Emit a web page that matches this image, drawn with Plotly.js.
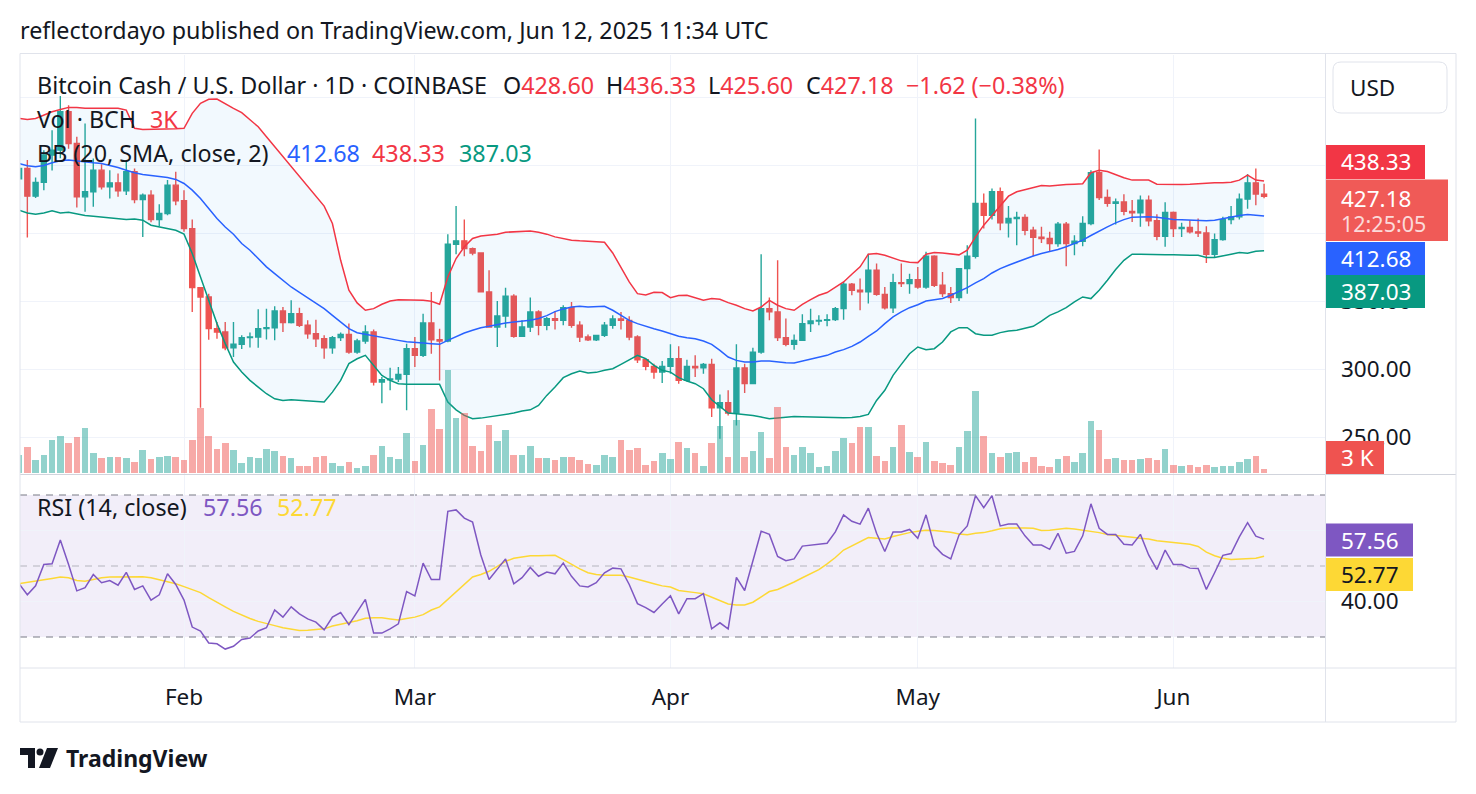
<!DOCTYPE html>
<html>
<head>
<meta charset="utf-8">
<script src="https://cdn.plot.ly/plotly-3.0.1.min.js"></script>
<style>html,body{margin:0;padding:0;background:#fff;}#chart{width:1476px;height:794px;}</style>
</head>
<body>
<div id="chart"></div>
<script>
// ---------- DATA (BCH/USD daily, 2025-01-12 .. 2025-06-12) ----------
const firstDay = '2025-01-12';
const open = [
440.0,447.5,427.2,437.3,457.4,461.0,489.2,465.9,426.7,430.4,446.3,434.1,437.0,431.1,445.1,424.8,428.0,410.0,414.5,435.3,
423.8,403.4,360.0,353.2,329.9,327.5,315.9,318.4,323.3,323.8,329.9,330.6,342.9,334.3,340.9,332.4,326.2,322.5,315.9,323.3,325.7,312.7,320.8,327.5,290.7,292.4,292.9,296.3,
315.2,310.3,334.1,321.8,320.8,391.9,394.4,388.7,385.5,356.9,331.1,339.2,353.7,324.3,331.1,342.2,332.4,337.3,336.0,345.3,332.4,323.8,321.8,325.0,332.4,337.0,336.0,323.8,307.1,302.2,298.0,
302.2,307.8,291.9,302.2,301.2,303.7,271.8,275.5,267.9,301.0,289.5,312.7,344.6,342.2,323.3,318.4,321.3,333.6,335.5,336.0,336.5,344.6,362.5,358.1,356.9,372.8,355.1,345.3,363.7,363.0,
365.9,360.5,383.1,361.8,355.6,352.7,374.0,383.1,421.8,413.2,430.4,407.6,410.8,411.5,402.2,397.0,396.1,392.4,406.6,392.4,394.1,407.1,444.4,426.2,422.0,423.0,416.0,415.0,424.3,409.1,397.8,
415.2,403.4,404.2,401.0,400.2,384.6,395.3,410.0,412.0,425.0,437.0,428.6];
const high = [
449.0,453.7,440.9,461.0,475.7,500.7,494.0,470.8,480.6,454.9,450.7,446.3,443.9,452.5,447.5,429.2,431.6,421.3,439.0,445.1,
431.6,410.0,360.5,355.6,334.8,334.8,334.8,325.0,327.0,344.1,344.6,346.3,345.8,350.7,345.3,336.0,336.5,325.0,324.5,327.0,333.6,322.5,332.4,329.2,294.4,301.2,301.7,318.9,
323.8,340.9,356.9,329.9,399.3,419.9,410.0,389.5,386.0,372.8,350.2,360.0,355.1,336.0,352.7,343.4,338.5,342.9,347.0,349.5,335.3,325.7,325.5,334.8,339.7,342.2,339.0,325.0,307.8,304.2,306.1,
318.4,316.9,307.1,310.3,304.7,307.8,281.6,284.6,318.4,304.2,315.9,384.6,352.7,380.1,337.3,325.7,340.4,344.6,339.7,340.4,345.8,364.2,363.5,366.7,385.0,377.7,360.5,370.3,377.7,370.3,
375.2,386.3,383.8,371.6,360.5,374.5,391.2,484.3,429.2,432.8,433.6,419.9,415.7,414.0,404.7,404.7,401.0,408.3,408.3,398.5,412.5,446.3,461.5,432.1,425.5,428.7,424.3,427.7,427.7,414.0,422.8,
416.0,407.6,409.6,410.8,405.1,399.8,412.0,419.9,429.2,443.4,447.5,436.33];
const low = [
437.5,396.8,425.9,431.6,446.0,455.0,462.0,418.9,415.7,419.4,432.1,425.5,426.7,428.0,422.0,397.3,408.0,405.1,413.2,420.6,
401.0,342.2,271.8,321.8,322.5,314.0,309.1,315.0,316.0,315.9,322.0,321.3,327.5,333.6,331.1,322.5,316.4,307.8,311.5,320.8,311.5,311.5,318.9,288.2,275.2,284.6,290.7,269.9,
301.7,309.1,311.5,291.9,319.9,384.6,383.1,383.8,356.4,330.6,316.4,330.6,323.3,323.8,327.5,325.0,328.7,329.2,332.4,330.6,320.1,320.8,320.8,323.8,329.9,329.2,321.3,304.7,299.3,293.1,290.0,
296.8,289.5,291.0,294.4,296.8,265.0,249.0,266.2,258.8,282.6,289.0,311.5,336.0,320.8,316.9,314.5,320.8,327.5,332.4,331.6,335.5,336.5,354.4,343.4,348.3,354.0,344.0,341.4,360.5,355.6,
359.3,359.3,360.5,353.2,348.8,350.2,355.6,381.4,403.4,410.0,402.2,396.8,391.2,398.5,383.1,392.9,386.3,390.0,375.7,383.8,390.4,405.9,424.3,419.4,406.4,413.2,408.3,404.7,405.1,394.9,390.0,
397.3,397.3,399.8,397.3,378.2,382.6,394.4,406.6,410.0,417.9,420.6,425.6];
const close = [
447.5,427.2,437.3,457.4,461.0,489.2,465.9,426.7,430.4,446.3,434.1,437.0,431.1,445.1,424.8,428.0,410.0,414.5,435.3,423.8,
403.4,360.0,353.2,329.9,327.5,315.9,318.4,323.3,323.8,329.9,330.6,342.9,334.3,340.9,332.4,326.2,322.5,315.9,323.3,325.7,312.7,320.8,327.5,290.7,292.4,292.9,296.3,315.2,
310.3,334.1,321.8,320.8,391.9,394.4,388.7,385.5,356.9,331.1,339.2,353.7,324.3,331.1,342.2,332.4,337.3,336.0,345.3,332.4,323.8,321.8,325.0,332.4,337.0,336.0,323.8,307.1,302.2,298.0,302.2,
307.8,291.9,302.2,301.2,303.7,271.8,275.5,267.9,301.0,289.5,312.7,344.6,342.2,323.3,318.4,321.3,333.6,335.5,336.0,336.5,344.6,362.5,358.1,356.9,372.8,355.1,345.3,363.7,363.0,365.9,
360.5,383.1,361.8,355.6,352.7,374.0,383.1,421.8,413.2,430.4,407.6,410.8,411.5,402.2,397.0,396.1,392.4,406.6,392.4,394.1,407.1,444.4,426.2,422.0,423.0,416.0,415.0,424.3,409.1,397.8,415.2,
403.4,404.2,401.0,400.2,384.6,395.3,410.0,412.0,425.0,437.0,428.8,427.18];
// volume in thousands of BCH
const volumeK = [
15.1,21.6,10.3,15.1,26.5,30.5,24.3,29.2,36.2,16.2,11.9,13.0,13.0,11.9,8.9,18.4,11.3,13.0,14.3,13.0,
10.3,26.5,52.9,29.7,19.2,24.3,18.4,8.1,13.5,12.4,19.2,17.8,14.3,12.4,6.2,6.2,13.5,14.3,8.1,6.2,8.9,4.1,6.2,15.1,22.4,13.5,11.1,32.4,
9.7,23.2,52.1,35.4,83.7,44.8,48.8,22.4,17.6,38.6,25.7,34.6,15.1,15.1,22.4,11.9,12.4,10.3,13.5,13.5,10.3,7.5,6.7,15.1,13.5,26.5,18.4,20.3,7.0,9.7,16.2,
11.1,25.1,20.3,16.2,6.2,24.3,37.8,13.5,42.7,13.5,17.6,33.2,11.9,53.5,21.6,15.1,21.6,16.2,4.9,6.2,17.8,28.4,24.3,37.3,37.3,14.3,9.7,21.1,39.4,17.0,
13.0,25.1,9.7,8.1,7.0,21.1,34.0,66.2,29.7,16.2,13.5,16.2,17.0,8.9,13.5,6.2,4.9,11.1,14.3,8.9,16.2,41.9,34.6,11.1,11.9,10.3,10.3,11.1,11.9,10.3,19.7,
7.0,6.2,7.0,5.4,7.0,5.4,6.2,6.2,8.9,11.1,14.3,3.0];
const bbUpper = [
484.3,483.6,484.3,486.8,489.2,490.9,492.4,492.4,491.7,491.7,491.7,491.7,491.7,490.4,477.0,476.2,476.2,476.2,476.2,476.7,
477.0,488.0,495.4,498.3,498.5,495.4,491.7,488.5,483.6,478.2,470.8,463.5,456.6,449.3,441.9,434.1,427.2,419.9,407.1,380.1,358.1,348.8,343.4,344.6,347.8,350.2,351.2,351.2,
351.2,350.7,350.0,347.8,367.9,381.4,390.0,396.1,398.0,398.5,399.3,400.7,401.2,401.5,401.7,400.7,399.3,397.3,396.1,394.9,394.4,394.1,393.9,393.4,385.5,375.3,364.2,355.6,354.7,356.6,356.4,
352.7,354.2,354.4,352.7,350.7,352.0,351.5,349.0,347.1,344.6,342.9,345.8,350.7,347.1,344.6,343.4,347.8,351.2,354.4,356.4,360.5,364.2,369.9,375.3,384.6,385.1,383.8,381.9,379.7,378.7,
378.4,384.6,385.8,385.5,384.6,384.1,387.5,397.3,405.9,413.2,420.6,427.2,430.4,432.1,433.3,435.1,434.6,435.3,435.8,436.0,436.3,444.4,446.3,445.3,442.7,440.7,439.0,439.0,439.0,436.0,435.8,
435.8,435.8,436.0,436.5,437.0,437.0,437.0,437.5,439.0,442.7,439.0,438.33];
const bbBasis = [
451.2,449.5,448.8,449.7,451.7,453.2,453.7,452.9,452.4,451.7,451.2,450.0,448.3,446.3,444.4,443.1,442.4,441.4,440.9,439.5,
436.5,431.6,425.5,418.1,410.8,404.6,399.3,392.4,387.5,381.4,375.3,370.3,365.4,360.5,356.6,352.7,348.3,344.6,339.7,334.8,329.9,326.9,325.7,324.8,323.5,322.5,321.3,320.3,
319.6,319.4,318.9,318.4,321.3,324.3,326.7,328.7,330.6,331.6,333.1,334.1,334.8,335.5,336.0,337.3,339.5,342.4,344.4,345.8,346.3,345.8,345.8,346.3,343.4,339.5,336.0,333.6,331.6,329.9,328.2,
326.2,324.3,323.3,322.5,320.8,318.4,314.0,309.1,306.6,305.4,305.4,306.1,306.1,305.4,304.9,304.7,306.1,307.6,309.1,310.3,312.7,314.5,316.9,320.1,324.3,328.2,333.6,338.5,342.2,345.3,
347.5,350.2,351.2,352.0,354.4,356.9,360.0,363.5,366.7,370.8,374.0,376.5,378.9,381.4,383.3,385.1,386.5,388.0,390.0,392.4,394.9,398.3,401.7,404.6,407.6,410.0,411.8,412.0,412.0,411.8,410.8,
410.0,409.8,409.6,409.3,409.1,409.6,410.8,411.8,413.0,413.7,413.2,412.68];
const bbLower = [
416.9,414.9,414.0,414.9,416.4,414.9,415.4,414.0,413.0,412.5,412.0,411.5,410.8,410.1,410.5,409.6,405.9,404.7,403.4,402.2,
399.3,385.1,367.9,350.7,333.6,318.9,305.4,298.0,291.9,287.0,282.1,278.4,277.2,277.7,277.2,276.7,276.2,276.0,283.3,291.9,304.2,307.8,310.3,302.9,295.6,291.9,289.5,289.0,
289.0,288.7,288.5,289.0,276.0,270.3,266.2,263.7,264.2,265.0,265.9,266.7,267.9,269.4,270.3,273.5,280.9,287.0,293.9,296.8,298.8,297.3,297.8,299.3,300.5,303.7,307.1,310.3,307.8,302.9,299.3,
298.0,293.9,291.4,289.5,285.8,277.7,272.8,267.9,267.4,266.9,266.2,265.0,263.7,264.2,265.0,265.4,265.2,265.0,265.0,265.0,264.7,264.5,264.7,265.4,266.9,277.2,284.6,295.6,303.7,311.5,
316.4,314.5,315.2,320.1,327.5,330.6,330.6,326.2,325.0,325.0,327.0,328.2,328.7,329.9,331.6,335.5,339.7,342.2,345.3,349.5,353.2,352.0,358.1,365.4,373.3,380.1,384.6,384.6,384.3,384.3,384.1,
384.1,383.8,383.8,383.8,382.1,382.1,383.1,384.6,385.8,385.3,386.8,387.03];
const rsi = [
45.0,41.9,44.4,50.4,50.6,57.3,50.4,43.0,43.9,47.6,45.3,45.9,44.6,48.2,43.4,44.4,40.4,41.9,47.8,44.8,
40.4,32.8,31.7,28.3,28.1,26.6,27.4,29.3,29.7,31.7,32.6,37.6,35.6,38.5,36.5,35.1,34.2,32.0,35.6,36.9,33.5,36.9,40.6,31.1,31.1,32.3,33.7,42.8,
41.6,50.8,46.2,46.2,65.4,65.8,63.5,62.4,53.1,46.2,49.0,52.0,45.0,46.7,49.6,47.1,48.3,47.8,50.8,47.1,44.4,44.1,45.3,48.1,49.4,49.2,44.8,39.4,38.3,36.9,39.3,
41.6,36.5,40.8,40.8,42.2,32.3,34.0,32.3,46.8,43.1,51.5,59.8,58.9,52.7,51.5,52.0,55.6,55.9,56.1,56.4,59.6,64.4,62.6,61.8,66.3,59.2,54.1,59.6,59.6,60.3,
57.8,64.4,55.7,53.3,52.0,58.7,61.3,69.8,66.4,69.8,61.3,61.8,61.8,58.5,55.9,55.9,54.7,59.2,53.6,54.1,58.5,67.5,60.6,58.9,58.9,56.1,55.9,58.9,53.1,49.0,54.5,
50.4,50.4,49.4,49.3,43.4,48.1,53.0,53.5,58.2,62.2,58.4,57.56];
const rsiMA = [
45.0,45.3,45.7,46.1,46.5,46.9,46.7,45.9,45.7,46.2,46.7,46.9,46.9,46.9,47.0,47.0,46.7,46.2,45.7,45.0,
44.2,43.3,42.5,41.1,39.7,38.5,37.2,36.1,35.2,34.4,33.9,33.2,32.6,32.1,31.8,31.9,32.0,32.3,33.1,33.7,34.1,34.6,35.3,35.4,35.4,35.1,34.8,35.2,
35.6,36.3,37.6,38.5,40.6,42.8,45.0,46.9,47.6,48.5,49.9,51.3,52.2,52.6,52.9,52.9,53.0,53.0,51.8,50.4,49.2,48.1,47.6,47.4,47.4,47.4,46.9,46.2,45.6,45.0,44.4,
44.1,43.1,42.7,42.5,42.2,41.3,40.2,39.3,39.0,39.0,39.8,41.3,42.8,43.4,44.4,45.5,46.7,47.9,49.0,50.6,52.4,54.5,55.6,56.7,58.0,57.8,57.6,58.3,58.9,59.4,
59.8,60.1,60.0,59.8,59.5,59.0,58.8,59.2,59.4,59.9,60.5,60.7,60.8,60.7,60.6,60.0,60.1,60.4,60.6,60.4,60.1,59.8,59.4,58.9,58.7,58.5,58.1,57.8,57.6,57.1,56.9,
56.5,56.3,56.1,55.5,53.9,52.9,52.2,51.8,51.9,52.2,52.2,52.77];
const monthTicks = ['2025-02-01','2025-03-01','2025-04-01','2025-05-01','2025-06-01'];
const monthLabels = ['Feb','Mar','Apr','May','Jun'];
const priceTicks = [250,300,350,400,450,500];
const priceTickText = ['250.00','300.00','350.00','','',''];

// ---------- dates ----------
const dates = [];
{
  const [yy, mm, dd] = firstDay.split('-').map(Number);
  for (let i = 0; i < close.length; i++) {
    dates.push(new Date(Date.UTC(yy, mm - 1, dd + i)).toISOString().slice(0, 10));
  }
}

// ---------- colours / helpers ----------
const UP = '#26a69a', DOWN = '#ef5350';
const RED = '#f23645', BLUE = '#2962ff', GREEN = '#089981', PURPLE = '#7e57c2', YELLOW = '#fdd835', INK = '#131722';
const FONT = 'Noto Sans, DejaVu Sans, sans-serif';
const LEG = 23.3;
const W = 1476, H = 794, ML = 20, MR = 151, MT = 55, MB = 126;
const PW = W - ML - MR, PH = H - MT - MB;
const px = x => (x - ML) / PW;
const py = y => (H - MB - y) / PH;

const volColors = close.map((c, i) => c >= open[i] ? 'rgba(38,166,154,0.5)' : 'rgba(239,83,80,0.5)');

const traces = [
  {type:'scatter', mode:'lines', x:dates, y:bbUpper, xaxis:'x', yaxis:'y', line:{color:RED, width:1.5}, hoverinfo:'skip'},
  {type:'scatter', mode:'lines', x:dates, y:bbLower, xaxis:'x', yaxis:'y', line:{color:GREEN, width:1.5}, fill:'tonexty', fillcolor:'rgba(33,150,243,0.06)', hoverinfo:'skip'},
  {type:'scatter', mode:'lines', x:dates, y:bbBasis, xaxis:'x', yaxis:'y', line:{color:BLUE, width:1.5}, hoverinfo:'skip'},
  {type:'candlestick', x:dates, open:open, high:high, low:low, close:close, xaxis:'x', yaxis:'y',
   increasing:{line:{color:UP, width:1.4}, fillcolor:UP}, decreasing:{line:{color:DOWN, width:1.4}, fillcolor:DOWN},
   whiskerwidth:0, hoverinfo:'skip'},
  {type:'bar', x:dates, y:volumeK, xaxis:'x', yaxis:'y3', marker:{color:volColors, line:{width:0}}, width:dates.map(()=>0.8*86400000), hoverinfo:'skip'},
  {type:'scatter', mode:'lines', x:dates, y:rsiMA, xaxis:'x', yaxis:'y2', line:{color:YELLOW, width:1.5}, hoverinfo:'skip'},
  {type:'scatter', mode:'lines', x:dates, y:rsi, xaxis:'x', yaxis:'y2', line:{color:PURPLE, width:1.5}, hoverinfo:'skip'}
];

function hline(y, x0, x1, color, width, dash) {
  return {type:'line', xref:'paper', yref:'paper', x0:px(x0), x1:px(x1), y0:py(y), y1:py(y), line:{color:color, width:width||1, dash:dash||'solid'}, layer:'above'};
}
function vline(x, y0, y1, color) {
  return {type:'line', xref:'paper', yref:'paper', x0:px(x), x1:px(x), y0:py(y0), y1:py(y1), line:{color:color, width:1}, layer:'above'};
}
function box(x0, y0, x1, y1, color) {
  return {type:'rect', xref:'paper', yref:'paper', x0:px(x0), x1:px(x1), y0:py(y1), y1:py(y0), fillcolor:color, line:{width:0}, layer:'above'};
}
function P(x, y) { return px(x) + ',' + py(y); }
function roundRect(x0, y0, x1, y1, r) {
  return 'M' + P(x0 + r, y0) + ' L' + P(x1 - r, y0) + ' Q' + P(x1, y0) + ' ' + P(x1, y0 + r) +
    ' L' + P(x1, y1 - r) + ' Q' + P(x1, y1) + ' ' + P(x1 - r, y1) + ' L' + P(x0 + r, y1) +
    ' Q' + P(x0, y1) + ' ' + P(x0, y1 - r) + ' L' + P(x0, y0 + r) + ' Q' + P(x0, y0) + ' ' + P(x0 + r, y0) + ' Z';
}
function polyPath(pts) { return 'M' + pts.map(p => P(p[0], p[1])).join(' L') + ' Z'; }

const BORDER = '#e0e3eb';
const shapes = [
  // RSI band background and level lines
  {type:'rect', xref:'paper', yref:'y2', x0:0, x1:1, y0:30, y1:70, fillcolor:'rgba(126,87,194,0.1)', line:{width:0}, layer:'below'},
  {type:'line', xref:'paper', yref:'y2', x0:0, x1:1, y0:70, y1:70, line:{color:'#787b86', width:1.2, dash:'7px,6px'}, layer:'below'},
  {type:'line', xref:'paper', yref:'y2', x0:0, x1:1, y0:50, y1:50, line:{color:'rgba(120,123,134,0.5)', width:1.2, dash:'7px,6px'}, layer:'below'},
  {type:'line', xref:'paper', yref:'y2', x0:0, x1:1, y0:30, y1:30, line:{color:'#787b86', width:1.2, dash:'7px,6px'}, layer:'below'},
  // frame
  hline(53.5, 20, 1456, BORDER), hline(722, 20, 1456, BORDER), hline(474.5, 20, 1456, '#d1d4dc'), hline(668, 20, 1456, BORDER),
  vline(20, 53.5, 722, BORDER), vline(1456, 53.5, 722, BORDER), vline(1325.5, 53.5, 722, BORDER),
  // USD box
  {type:'path', xref:'paper', yref:'paper', path:roundRect(1333, 62, 1447, 113, 8), fillcolor:'#ffffff', line:{color:BORDER, width:1}, layer:'above'},
  // price-scale labels
  box(1326, 145, 1425, 179, RED),
  box(1326, 179.5, 1448, 241, '#f05a57'),
  box(1326, 242, 1425, 275, BLUE),
  box(1326, 275, 1425, 308, GREEN),
  box(1326, 441, 1384, 474, DOWN),
  box(1326, 523.5, 1413, 556.5, PURPLE),
  box(1326, 558, 1413, 591, YELLOW),
  // TradingView logo
  {type:'path', xref:'paper', yref:'paper', path:polyPath([[20,748],[35,748],[35,768],[28,768],[28,755],[20,755]]), fillcolor:INK, line:{width:0}, layer:'above'},
  {type:'circle', xref:'paper', yref:'paper', x0:px(36.5), x1:px(43.5), y0:py(755.5), y1:py(748.5), fillcolor:INK, line:{width:0}, layer:'above'},
  {type:'path', xref:'paper', yref:'paper', path:polyPath([[47,748],[58,748],[50,768],[39,768]]), fillcolor:INK, line:{width:0}, layer:'above'}
];

function txt(x, y, text, color, size, extra) {
  return Object.assign({xref:'paper', yref:'paper', x:px(x), y:py(y), xanchor:'left', yanchor:'middle', text:text, showarrow:false,
    font:{family:FONT, size:size || LEG, color:color || INK}}, extra || {});
}
const span = (c, t) => '<span style="color:' + c + '">' + t + '</span>';
const annotations = [
  txt(18, 30, 'reflectordayo published on TradingView.com, Jun 12, 2025 11:34 UTC', INK, 23.3),
  txt(35, 85, 'Bitcoin Cash / U.S. Dollar · 1D · COINBASE'),
  txt(501, 85, 'O' + span(RED, '428.60')),
  txt(604, 85, 'H' + span(RED, '436.33')),
  txt(706, 85, 'L' + span(RED, '425.60')),
  txt(804, 85, 'C' + span(RED, '427.18')),
  txt(904, 85, '−1.62 (−0.38%)', RED),
  txt(35, 119, 'Vol · BCH'),
  txt(148, 119, '3K', RED),
  txt(35, 153, 'BB (20, SMA, close, 2)'),
  txt(285, 153, '412.68', BLUE),
  txt(370, 153, '438.33', RED),
  txt(457, 153, '387.03', GREEN),
  txt(35, 507, 'RSI (14, close)'),
  txt(201, 507, '57.56', PURPLE),
  txt(275, 507, '52.77', YELLOW),
  txt(1348, 87, 'USD', INK, 22.5),
  txt(1339, 162, '438.33', '#ffffff', 22.5),
  txt(1339, 198, '427.18', '#ffffff', 22.5),
  txt(1339, 223, '12:25:05', 'rgba(255,255,255,0.78)', 21.5),
  txt(1339, 258.5, '412.68', '#ffffff', 22.5),
  txt(1339, 291.5, '387.03', '#ffffff', 22.5),
  txt(1339, 457.5, '3 K', '#ffffff', 22.5),
  txt(1339, 540, '57.56', '#ffffff', 22.5),
  txt(1339, 574.5, '52.77', INK, 22.5),
  txt(64, 758, '<b>TradingView</b>', INK, 23)
];

const layout = {
  width:W, height:H, margin:{l:ML, r:MR, t:MT, b:MB, pad:0},
  paper_bgcolor:'#ffffff', plot_bgcolor:'#ffffff', showlegend:false, hovermode:false,
  font:{family:FONT, color:INK, size:22.5},
  boxgap:0.22, boxgroupgap:0.22, bargap:0,
  xaxis:{type:'date', anchor:'y2', range:['2025-01-12 02:37','2025-06-19 09:21'],
    tickmode:'array', tickvals:monthTicks, ticktext:monthLabels, ticks:'', showgrid:true, gridcolor:'#f0f3fa', gridwidth:1,
    zeroline:false, showline:false, tickfont:{family:FONT, size:22.5, color:INK}, ticklabelstandoff:13,
    rangeslider:{visible:false}, fixedrange:true},
  yaxis:{domain:[py(474.5), 1], range:[222.79, 530.88], side:'right', anchor:'x', tickmode:'array', tickvals:priceTicks, ticktext:priceTickText,
    ticks:'', showgrid:true, gridcolor:'#f0f3fa', zeroline:false, showline:false, ticklabelstandoff:15,
    tickfont:{family:FONT, size:22.5, color:INK}, fixedrange:true},
  yaxis2:{domain:[0, py(475)], range:[21.27, 75.63], side:'right', anchor:'x', tickmode:'array', tickvals:[40,60], ticktext:['40.00',''],
    ticks:'', showgrid:true, gridcolor:'#f0f3fa', zeroline:false, showline:false, ticklabelstandoff:15,
    tickfont:{family:FONT, size:22.5, color:INK}, fixedrange:true},
  yaxis3:{overlaying:'y', anchor:'x', range:[-1.05, 338.3], visible:false, showgrid:false, zeroline:false, fixedrange:true},
  shapes:shapes, annotations:annotations
};

Plotly.newPlot('chart', traces, layout, {staticPlot:true, displayModeBar:false});
</script>
</body>
</html>
